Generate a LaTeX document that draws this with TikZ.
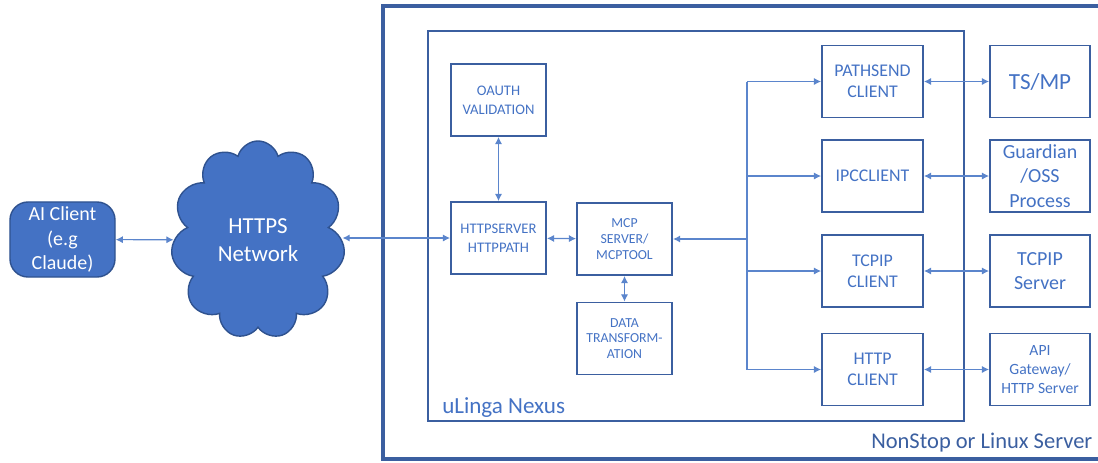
\documentclass[tikz,border=0pt]{standalone}
\usepackage{fontspec}
\setmainfont{Carlito}
\usetikzlibrary{shapes.symbols,arrows.meta}
\definecolor{nxfill}{HTML}{4472C4}
\definecolor{nxedge}{HTML}{2F528F}
\definecolor{nxline}{HTML}{3B5FA0}
\definecolor{nxtext}{HTML}{4472C4}
\definecolor{nxlink}{HTML}{5B85CC}

\begin{document}
\begin{tikzpicture}[x=0.025cm, y=-0.025cm,
    box/.style={draw=nxline, line width=1.3pt, text=nxtext, align=center, inner sep=0pt},
    inbox/.style={box, minimum width=2.375cm, minimum height=1.8cm, font=\fontsize{10.4}{13.5}\selectfont},
    clbox/.style={box, minimum width=2.525cm, minimum height=1.8cm, font=\fontsize{12.7}{15}\selectfont},
    srvbox/.style={box, minimum width=2.5cm, minimum height=1.8cm, font=\fontsize{14.2}{17.2}\selectfont},
    link/.style={draw=nxlink, line width=0.8pt},
    both/.style={link, {Latex[length=1.8mm,width=1.8mm]}-{Latex[length=1.8mm,width=1.8mm]}},
    one/.style={link, -{Latex[length=1.8mm,width=1.8mm]}}]
    \useasboundingbox (0,0) rectangle (1098,462);
    \clip (0,0) rectangle (1098,462);

    % 枠
    \draw[nxline, line width=2.6pt] (383,6) rectangle (1125,459);
    \draw[nxline, line width=1.3pt] (428,31) rectangle (964,421);
    \node[anchor=base west, text=nxtext, font=\fontsize{16.4}{18}\selectfont, inner sep=0pt] (nexus) at (442,413) {uLinga Nexus};
    \node[anchor=base west, text=nxline, font=\fontsize{16}{18}\selectfont, inner sep=0pt] (server) at (871,448) {NonStop or Linux Server};

    \node[draw=nxedge, line width=1pt, fill=nxfill, text=white, rounded corners=0.45cm, minimum width=2.625cm, minimum height=1.875cm, align=center, inner sep=0pt, font=\fontsize{14.2}{17.5}\selectfont] (ai) at (62.5,239.5) {AI Client\\(e.g\\Claude)};
    \node[cloud, cloud puffs=11, aspect=0.87, draw=nxedge, line width=1pt, fill=nxfill, text=white, minimum width=4.35cm, minimum height=4.95cm, align=center, inner sep=0pt, font=\fontsize{16.3}{19.5}\selectfont] (net) at (258,240) {HTTPS\\Network};

    \node[inbox] (oauth) at (498.5,100) {OAUTH\\VALIDATION};
    \node[inbox] (httpsrv) at (498.5,238) {HTTPSERVER\\HTTPPATH};
    \node[inbox, font=\fontsize{9.8}{11.2}\selectfont] (mcp) at (624.5,239) {MCP\\SERVER/\\MCPTOOL};
    \node[inbox, font=\fontsize{9.8}{11.2}\selectfont] (data) at (624.5,338.5) {DATA\\TRANSFORM-\\ATION};

    \node[clbox] (pathsend) at (872.5,81.5) {PATHSEND\\CLIENT};
    \node[clbox] (ipc) at (872.5,176) {IPCCLIENT};
    \node[clbox] (tcpip) at (872.5,271) {TCPIP\\CLIENT};
    \node[clbox] (http) at (872.5,369.5) {HTTP\\CLIENT};

    \node[srvbox, font=\fontsize{16.4}{18}\selectfont] (tsmp) at (1040,81.5) {TS/MP};
    \node[srvbox] (guardian) at (1040,176) {Guardian\\/OSS\\Process};
    \node[srvbox] (tcpsrv) at (1040,271) {TCPIP\\Server};
    \node[srvbox, font=\fontsize{11.1}{13.3}\selectfont] (apigw) at (1040,369.5) {API\\Gateway/\\HTTP Server};

    % 矢印を引く
    \draw[both] (ai) -- (net);
    \draw[both] (net.east |- httpsrv) -- (httpsrv);
    \draw[both] (oauth) -- (httpsrv);
    \draw[both] (httpsrv) -- (mcp);
    \draw[both] (mcp) -- (data);

    \coordinate (bus) at (747,239);
    \draw[one, line width=1pt] (bus) -- (mcp);
    \draw[link] (bus |- pathsend) -- (bus |- http);
    \foreach \c in {pathsend,ipc,tcpip,http}
      \draw[one] (bus |- \c) -- (\c);

    \draw[both] (pathsend) -- (tsmp);
    \draw[both] (ipc) -- (guardian);
    \draw[both] (tcpip) -- (tcpsrv);
    \draw[both] (http) -- (apigw);
\end{tikzpicture}
\end{document}
